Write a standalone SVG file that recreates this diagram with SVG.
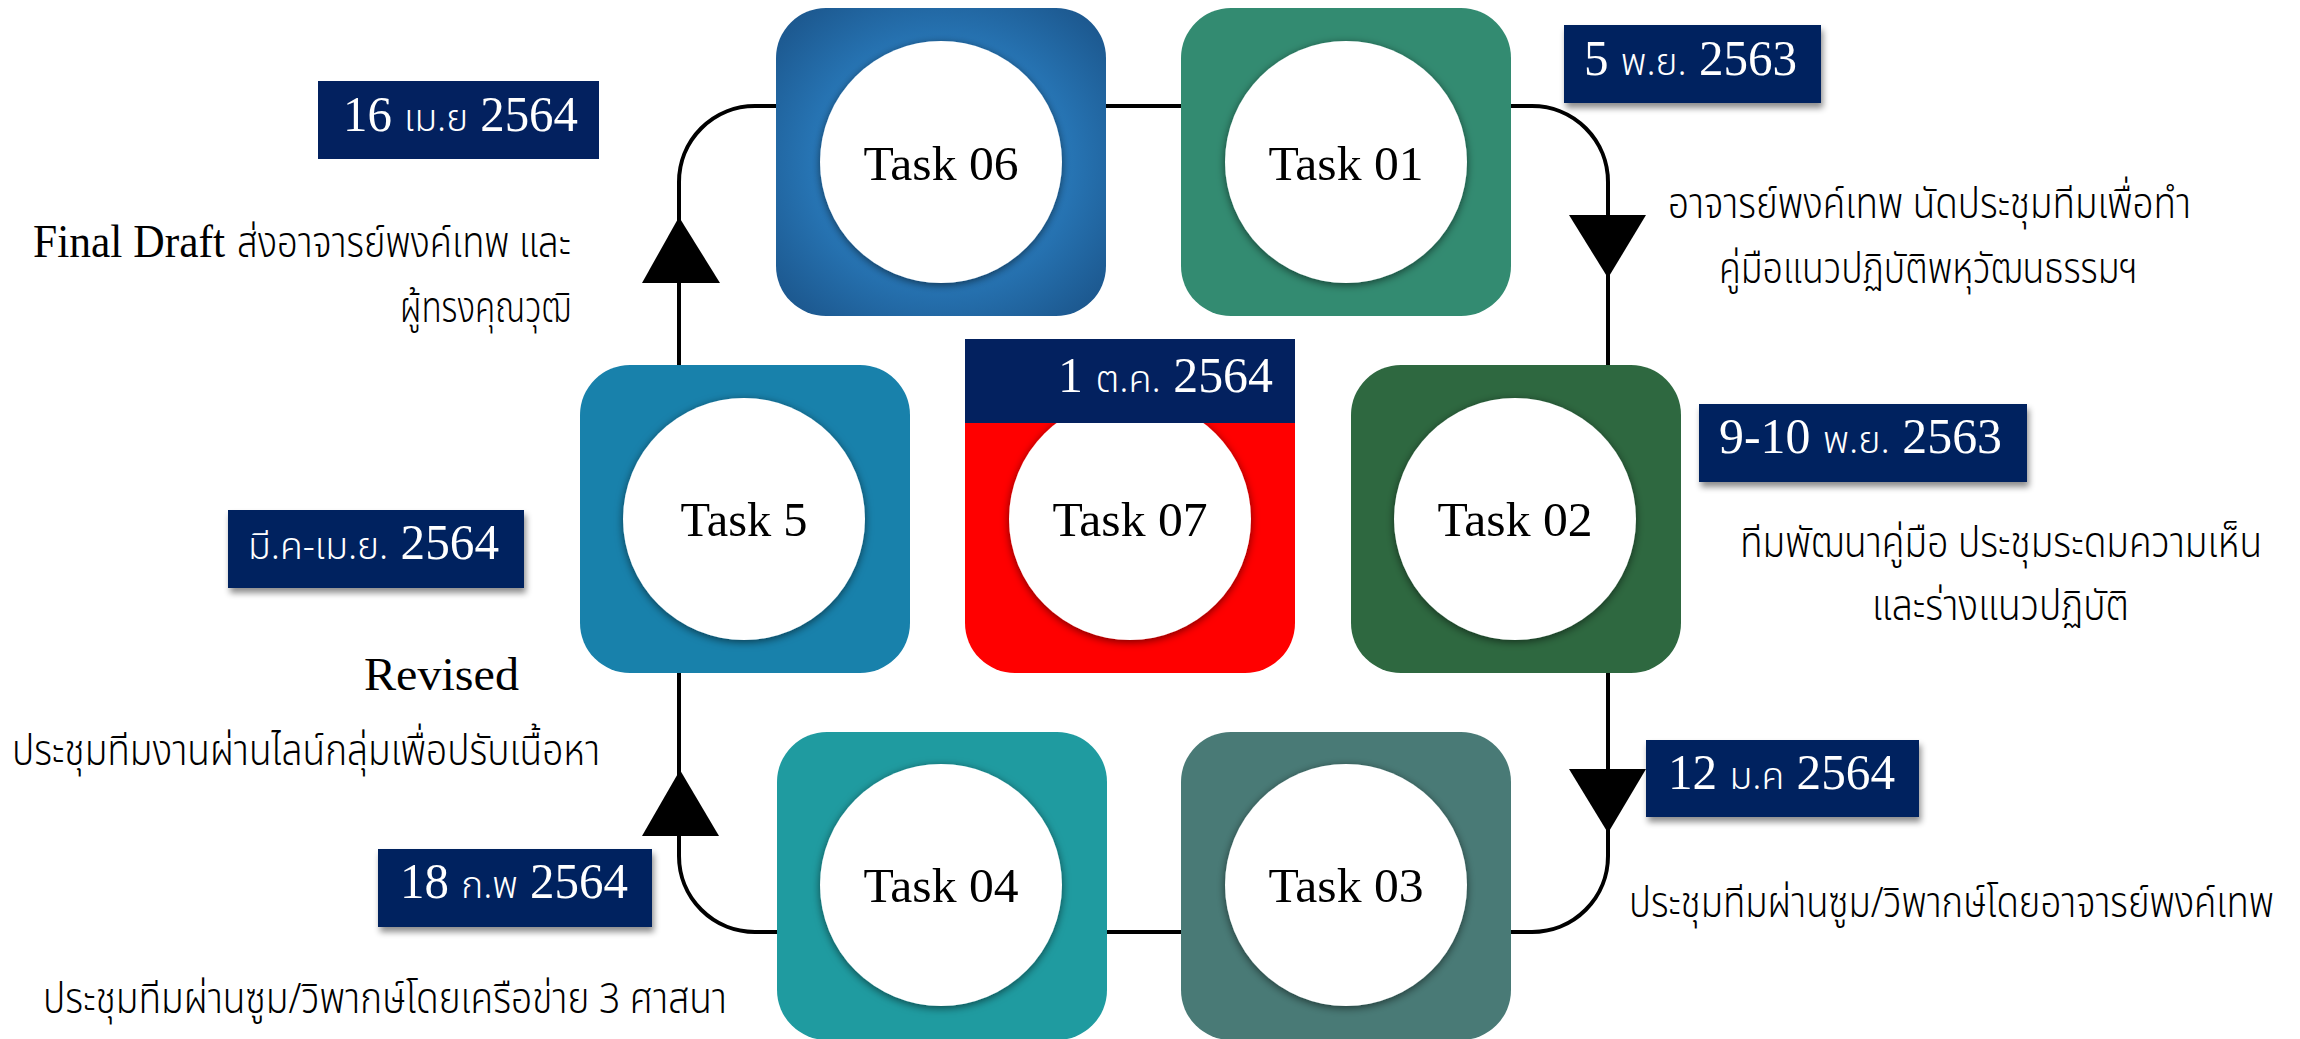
<svg xmlns="http://www.w3.org/2000/svg" width="2300" height="1039" viewBox="0 0 2300 1039">
  <style>
    .box { stroke: none; }
    .hole { fill: #ffffff; filter: url(#holeShadow); }
    .task { font-family: "Liberation Serif", serif; font-size: 49px; fill: #000; text-anchor: middle; }
    .tag { fill: #03215f; }
    .tagShadow { filter: url(#tagShadow); }
    .num { font-family: "Liberation Serif", serif; font-size: 50px; fill: #fff; }
    .thsmall { font-family: "Noto Sans Thai", "Noto Sans", "DejaVu Sans", sans-serif; font-size: 38px; font-weight: 300; fill: #fff; }
    .note { font-family: "Noto Sans Thai", "Noto Sans", "DejaVu Sans", sans-serif; font-size: 42px; font-weight: 300; fill: #000; }
    .end { text-anchor: end; }
    .latin { font-family: "Liberation Serif", serif; font-size: 46px; fill: #000; }
    .wire { fill: none; stroke: #000; stroke-width: 4; }
    .head { fill: #000; }
  </style>
  <defs>
    <radialGradient id="blueGlow" cx="50%" cy="50%" r="70%">
      <stop offset="0.45" stop-color="#2a7dbf"/>
      <stop offset="1" stop-color="#1a5287"/>
    </radialGradient>
    <filter id="holeShadow" x="-20%" y="-20%" width="140%" height="140%">
      <feGaussianBlur in="SourceAlpha" stdDeviation="4"/>
      <feOffset dy="2" result="b"/>
      <feFlood flood-color="#000" flood-opacity="0.55"/>
      <feComposite in2="b" operator="in"/>
      <feMerge><feMergeNode/><feMergeNode in="SourceGraphic"/></feMerge>
    </filter>
    <filter id="tagShadow" x="-10%" y="-20%" width="120%" height="150%">
      <feGaussianBlur in="SourceAlpha" stdDeviation="3"/>
      <feOffset dx="2" dy="5" result="b"/>
      <feFlood flood-color="#000" flood-opacity="0.45"/>
      <feComposite in2="b" operator="in"/>
      <feMerge><feMergeNode/><feMergeNode in="SourceGraphic"/></feMerge>
    </filter>
  </defs>

  <rect width="2300" height="1039" fill="#ffffff"/>

  <!-- connectors of the loop -->
  <g id="connectors">
    <path class="wire" d="M1106,106 H1181"/>
    <path class="wire" d="M1510,106 H1532 A76,76 0 0 1 1608,182 V365"/>
    <path class="wire" d="M1608,673 V856 A76,76 0 0 1 1532,932 H1510"/>
    <path class="wire" d="M1181,932 H1105"/>
    <path class="wire" d="M777,932 H755 A76,76 0 0 1 679,856 V673"/>
    <path class="wire" d="M679,365 V182 A76,76 0 0 1 755,106 H776"/>
    <polygon class="head" points="1569,215 1646,215 1608,278"/>
    <polygon class="head" points="1569,769 1646,769 1608,833"/>
    <polygon class="head" points="642,283 720,283 679,217"/>
    <polygon class="head" points="642,836 719,836 680,770"/>
  </g>

  <g id="task06">
    <rect class="box" x="776" y="8" width="330" height="308" rx="50" fill="url(#blueGlow)"/>
    <circle class="hole" cx="941" cy="162" r="121"/>
    <text class="task" x="941" y="180" textLength="155" lengthAdjust="spacingAndGlyphs">Task 06</text>
  </g>

  <g id="task01">
    <rect class="box" x="1181" y="8" width="330" height="308" rx="50" fill="#338b71"/>
    <circle class="hole" cx="1346" cy="162" r="121"/>
    <text class="task" x="1346" y="180" textLength="155" lengthAdjust="spacingAndGlyphs">Task 01</text>
  </g>

  <g id="task5">
    <rect class="box" x="580" y="365" width="330" height="308" rx="50" fill="#1881ab"/>
    <circle class="hole" cx="744" cy="519" r="121"/>
    <text class="task" x="744" y="536" textLength="127" lengthAdjust="spacingAndGlyphs">Task 5</text>
  </g>

  <g id="task07">
    <rect class="box" x="965" y="365" width="330" height="308" rx="50" fill="#ff0000"/>
    <circle class="hole" cx="1130" cy="519" r="121"/>
    <text class="task" x="1130" y="536" textLength="155" lengthAdjust="spacingAndGlyphs">Task 07</text>
    <rect class="tag" x="965" y="339" width="330" height="84"/>
    <text x="1058" y="392" textLength="215" lengthAdjust="spacingAndGlyphs"><tspan class="num">1 </tspan><tspan class="thsmall">ต.ค.</tspan><tspan class="num"> 2564</tspan></text>
  </g>

  <g id="task02">
    <rect class="box" x="1351" y="365" width="330" height="308" rx="50" fill="#2e6840"/>
    <circle class="hole" cx="1515" cy="519" r="121"/>
    <text class="task" x="1515" y="536" textLength="155" lengthAdjust="spacingAndGlyphs">Task 02</text>
  </g>

  <g id="task04">
    <rect class="box" x="777" y="732" width="330" height="308" rx="50" fill="#1f9ba0"/>
    <circle class="hole" cx="941" cy="885" r="121"/>
    <text class="task" x="941" y="902" textLength="155" lengthAdjust="spacingAndGlyphs">Task 04</text>
  </g>

  <g id="task03">
    <rect class="box" x="1181" y="732" width="330" height="308" rx="50" fill="#497a76"/>
    <circle class="hole" cx="1346" cy="885" r="121"/>
    <text class="task" x="1346" y="902" textLength="155" lengthAdjust="spacingAndGlyphs">Task 03</text>
  </g>

  <!-- date tags -->
  <g id="date-16-apr">
    <rect class="tag" x="318" y="81" width="281" height="78"/>
    <text x="343" y="131" textLength="235" lengthAdjust="spacingAndGlyphs"><tspan class="num">16 </tspan><tspan class="thsmall">เม.ย</tspan><tspan class="num"> 2564</tspan></text>
  </g>
  <g id="date-5-nov">
    <rect class="tag tagShadow" x="1564" y="25" width="257" height="78"/>
    <text x="1584" y="75" textLength="213" lengthAdjust="spacingAndGlyphs"><tspan class="num">5 </tspan><tspan class="thsmall">พ.ย.</tspan><tspan class="num"> 2563</tspan></text>
  </g>
  <g id="date-9-nov">
    <rect class="tag tagShadow" x="1699" y="404" width="328" height="78"/>
    <text x="1719" y="453" textLength="283" lengthAdjust="spacingAndGlyphs"><tspan class="num">9-10 </tspan><tspan class="thsmall">พ.ย.</tspan><tspan class="num"> 2563</tspan></text>
  </g>
  <g id="date-mar-apr">
    <rect class="tag tagShadow" x="228" y="510" width="296" height="78"/>
    <text x="248" y="559" textLength="251" lengthAdjust="spacingAndGlyphs"><tspan class="thsmall">มี.ค-เม.ย.</tspan><tspan class="num"> 2564</tspan></text>
  </g>
  <g id="date-18-feb">
    <rect class="tag tagShadow" x="378" y="849" width="274" height="78"/>
    <text x="400" y="898" textLength="228" lengthAdjust="spacingAndGlyphs"><tspan class="num">18 </tspan><tspan class="thsmall">ก.พ</tspan><tspan class="num"> 2564</tspan></text>
  </g>
  <g id="date-12-jan">
    <rect class="tag tagShadow" x="1646" y="740" width="273" height="77"/>
    <text x="1668" y="789" textLength="227" lengthAdjust="spacingAndGlyphs"><tspan class="num">12 </tspan><tspan class="thsmall">ม.ค</tspan><tspan class="num"> 2564</tspan></text>
  </g>

  <!-- notes -->
  <g id="notes">
    <text class="note" x="1668" y="218" textLength="523" lengthAdjust="spacingAndGlyphs">อาจารย์พงค์เทพ นัดประชุมทีมเพื่อทำ</text>
    <text class="note" x="1719" y="283" textLength="419" lengthAdjust="spacingAndGlyphs">คู่มือแนวปฏิบัติพหุวัฒนธรรมฯ</text>
    <text class="latin" x="33" y="257" textLength="192" lengthAdjust="spacingAndGlyphs">Final Draft</text>
    <text class="note" x="237" y="257" textLength="334" lengthAdjust="spacingAndGlyphs">ส่งอาจารย์พงค์เทพ และ</text>
    <text class="note" x="400" y="322" textLength="171" lengthAdjust="spacingAndGlyphs">ผู้ทรงคุณวุฒิ</text>
    <!-- narrow horizontal scale keeps these long lines inside the right margin -->
    <g transform="translate(1740,557) scale(0.76,1)">
      <text class="note" x="0" y="0" textLength="687" lengthAdjust="spacingAndGlyphs">ทีมพัฒนาคู่มือ ประชุมระดมความเห็น</text>
    </g>
    <text class="note" x="1872" y="620" textLength="257" lengthAdjust="spacingAndGlyphs">และร่างแนวปฏิบัติ</text>
    <text class="latin" x="364" y="690" textLength="155" lengthAdjust="spacingAndGlyphs">Revised</text>
    <text class="note" x="12" y="765" textLength="588" lengthAdjust="spacingAndGlyphs">ประชุมทีมงานผ่านไลน์กลุ่มเพื่อปรับเนื้อหา</text>
    <g transform="translate(1629,917) scale(0.78,1)">
      <text class="note" x="0" y="0" textLength="827" lengthAdjust="spacingAndGlyphs">ประชุมทีมผ่านซูม/วิพากษ์โดยอาจารย์พงค์เทพ</text>
    </g>
    <text class="note" x="43" y="1013" textLength="684" lengthAdjust="spacingAndGlyphs">ประชุมทีมผ่านซูม/วิพากษ์โดยเครือข่าย 3 ศาสนา</text>
  </g>
</svg>
